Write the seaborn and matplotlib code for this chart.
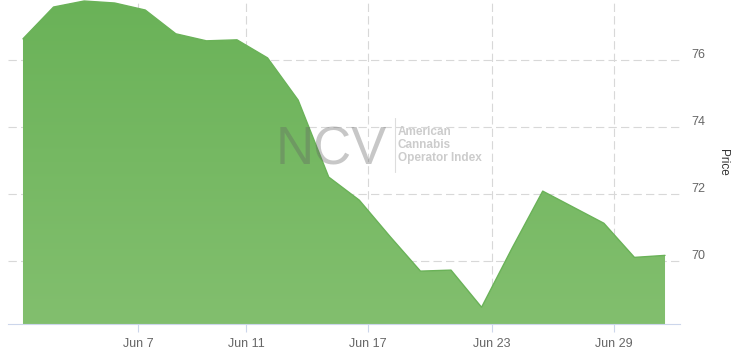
import numpy as np
import pandas as pd
import seaborn as sns
import matplotlib.pyplot as plt
from matplotlib.transforms import ScaledTranslation
from matplotlib.colors import LinearSegmentedColormap

# dzienne zamknięcia indeksu (dni sesyjne)
dates = ['Jun 2', 'Jun 3', 'Jun 4', 'Jun 5', 'Jun 8', 'Jun 9', 'Jun 10', 'Jun 11',
         'Jun 12', 'Jun 15', 'Jun 16', 'Jun 17', 'Jun 18', 'Jun 19', 'Jun 22', 'Jun 23',
         'Jun 24', 'Jun 25', 'Jun 26', 'Jun 29', 'Jun 30', 'Jul 1']
prices = [76.64, 77.59, 77.77, 77.71, 77.50, 76.79, 76.58, 76.61,
          76.07, 74.81, 72.51, 71.82, 70.74, 69.70, 69.73, 68.62,
          70.39, 72.09, 71.61, 71.13, 70.11, 70.17]
tick_labels = ['Jun 7', 'Jun 11', 'Jun 17', 'Jun 23', 'Jun 29']
y_ticks = [70, 72, 74, 76]

df = pd.DataFrame({'idx': range(len(prices)), 'date': dates, 'price': prices})

# os ordinalna - Jun 7 to niedziela, wiec wypada miedzy punktami
tick_pos = [3.77, 7.31, 11.29, 15.34, 19.33]

sns.set_style('white')
plt.rcParams['font.family'] = ['Liberation Sans', 'DejaVu Sans']
plt.rcParams['lines.scale_dashes'] = False

fig = plt.figure(figsize=(7.39, 3.57), dpi=100)
ax = fig.add_axes([8 / 739, 33 / 357, 672 / 739, 324 / 357])

ymin, ymax = 68.12, 77.80
ax.set_xlim(-0.49, 21.49)
ax.set_ylim(ymin, ymax)

# wypelnienie z lekkim gradientem
fill = ax.fill_between(df['idx'], df['price'], ymin, facecolor='none', edgecolor='none')
cmap = LinearSegmentedColormap.from_list('g', ['#6ab258', '#82bf6e'])
grad = np.linspace(0, 1, 256).reshape(-1, 1)
img = ax.imshow(grad, cmap=cmap, aspect='auto', extent=[-0.49, 21.49, ymin, ymax],
                origin='upper', zorder=2)
img.set_clip_path(fill.get_paths()[0], transform=ax.transData)
ax.set_xlim(-0.49, 21.49)
ax.set_ylim(ymin, ymax)

sns.lineplot(data=df, x='idx', y='price', color='#6ab258', linewidth=1, ax=ax, zorder=3)

# siatka
dash = (0, (6, 3))
for yv in y_ticks:
    ax.axhline(yv, color='#d8d8d8', linewidth=0.8, linestyle=dash, zorder=1)
for xv in tick_pos:
    ax.axvline(xv, color='#d8d8d8', linewidth=0.8, linestyle=dash, zorder=1)

# znak wodny
ax.text(276 / 739, 1 - 150 / 357, 'NCV', transform=fig.transFigure, fontsize=38,
        color='#646464', alpha=0.36, va='center', ha='left', zorder=4)
fig.add_artist(plt.Line2D([395 / 739, 395 / 739], [1 - 172 / 357, 1 - 118 / 357],
                          color='#dddddd', linewidth=0.8))
fig.text(398 / 739, 1 - 145 / 357, 'American\nCannabis\nOperator Index', fontsize=8.5,
         fontweight='bold', color='#cccccc', va='center', ha='left', linespacing=1.15)

# osie
ax.set_xticks(tick_pos)
ax.set_xticklabels(tick_labels)
ax.tick_params(axis='x', length=6, width=0.8, color='#ccd6eb', labelcolor='#666666',
               labelsize=9, pad=4, bottom=True)
ax.yaxis.tick_right()
ax.set_yticks(y_ticks)
ax.set_yticklabels([str(v) for v in y_ticks])
ax.tick_params(axis='y', length=0, labelcolor='#666666', labelsize=9, pad=8)
off = ScaledTranslation(0, 7 / 100, fig.dpi_scale_trans)
for lab in ax.get_yticklabels():
    lab.set_transform(lab.get_transform() + off)
ax.yaxis.set_label_position('right')
ax.set_ylabel('Price', rotation=270, fontsize=8.5, color='#333333', labelpad=17)
ax.set_xlabel('')

sns.despine(ax=ax, left=True, right=True, top=True)
ax.spines['bottom'].set_color('#ccd6eb')
ax.spines['bottom'].set_linewidth(0.8)

fig.savefig('out.png', dpi=100)
